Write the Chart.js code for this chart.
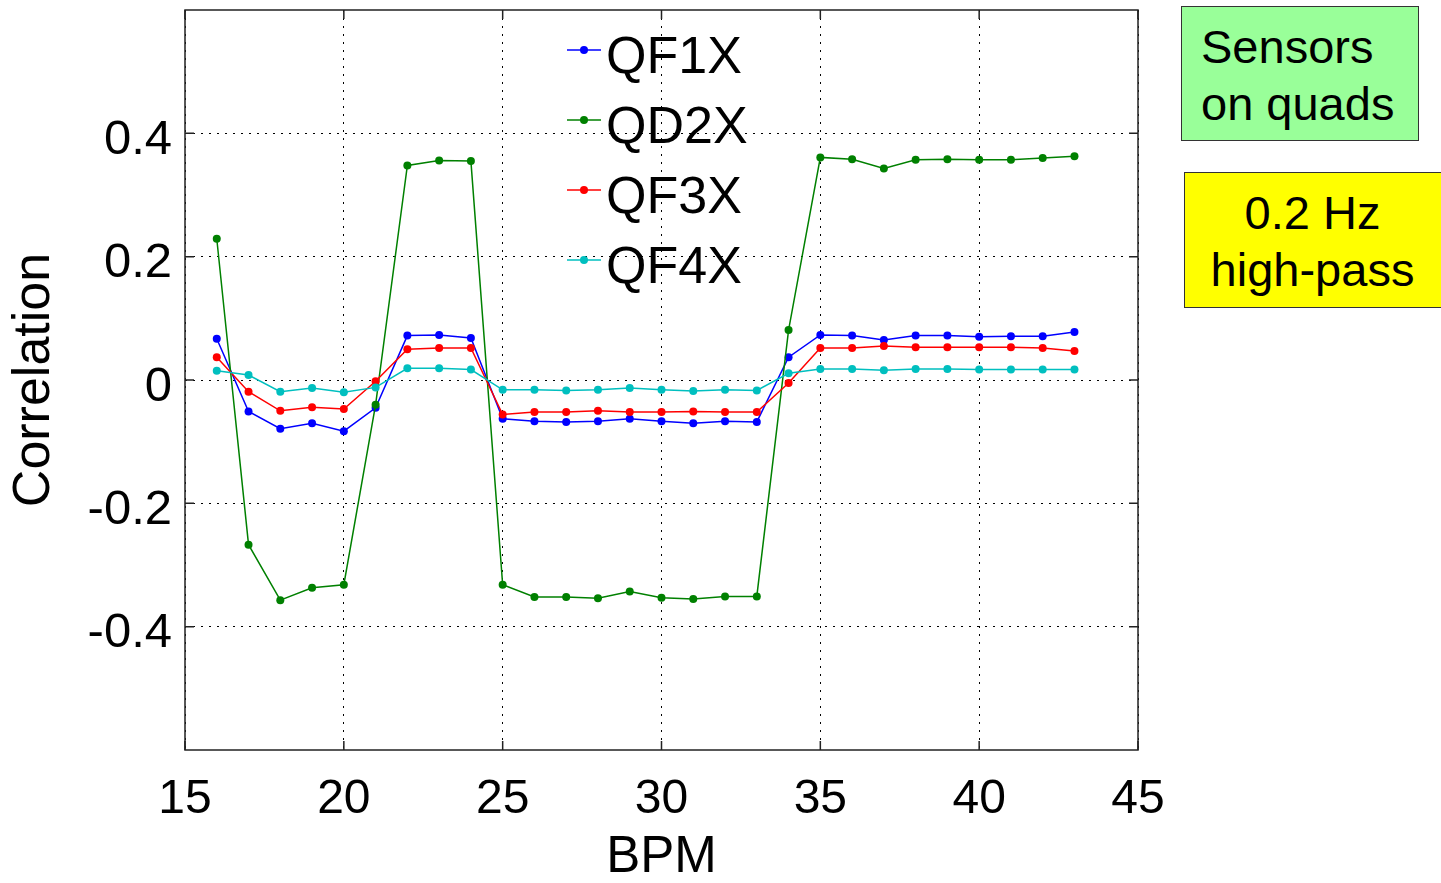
<!DOCTYPE html>
<html>
<head>
<meta charset="utf-8">
<script src="https://cdn.jsdelivr.net/npm/chart.js@4/dist/chart.umd.min.js"></script>
<style>
  body { margin: 0; background: #fff; }
  #wrap { position: relative; width: 1441px; height: 883px; overflow: hidden; }
  .note {
    position: absolute;
    font-family: "Liberation Sans", Arial, sans-serif;
    font-size: 47px;
    line-height: 57px;
    color: #000;
    box-sizing: border-box;
    border: 1.5px solid #333;
  }
  #sensors { left: 1181px; top: 6px; width: 238px; height: 135px; background: #99ff99; padding: 11px 0 0 19px; }
  #highpass { left: 1184px; top: 172px; width: 262px; height: 136px; background: #ffff00; padding-top: 11px; text-align: center; padding-right: 5px; }
</style>
</head>
<body>
<div id="wrap">
  <canvas id="chart" width="1441" height="883"></canvas>
  <div class="note" id="sensors">Sensors<br>on quads</div>
  <div class="note" id="highpass">0.2 Hz<br>high-pass</div>
</div>
<script>
// BPM index on x
const bpm = [16, 17, 18, 19, 20, 21, 22, 23, 24, 25, 26, 27, 28, 29, 30, 31, 32, 33, 34, 35, 36, 37, 38, 39, 40, 41, 42, 43];

// correlation values
const qf1x = [0.067, -0.051, -0.079, -0.070, -0.083, -0.045, 0.072, 0.073, 0.068, -0.063, -0.067, -0.068, -0.067, -0.063,
              -0.067, -0.070, -0.067, -0.068, 0.037, 0.073, 0.072, 0.065, 0.072, 0.072, 0.070, 0.071, 0.071, 0.078];
const qd2x = [0.229, -0.267, -0.357, -0.337, -0.332, -0.040, 0.348, 0.356, 0.355, -0.332, -0.352, -0.352, -0.354, -0.343,
              -0.353, -0.355, -0.351, -0.351, 0.081, 0.361, 0.358, 0.343, 0.357, 0.358, 0.357, 0.357, 0.360, 0.363];
const qf3x = [0.037, -0.019, -0.050, -0.044, -0.047, -0.002, 0.050, 0.052, 0.052, -0.056, -0.052, -0.052, -0.050, -0.052,
              -0.052, -0.051, -0.052, -0.052, -0.005, 0.052, 0.052, 0.055, 0.053, 0.053, 0.053, 0.053, 0.052, 0.047];
const qf4x = [0.015, 0.008, -0.019, -0.013, -0.020, -0.012, 0.019, 0.019, 0.017, -0.016, -0.016, -0.017, -0.016, -0.013,
              -0.016, -0.018, -0.016, -0.017, 0.011, 0.018, 0.018, 0.016, 0.018, 0.018, 0.017, 0.017, 0.017, 0.017];

const seriesNames = ['QF1X', 'QD2X', 'QF3X', 'QF4X'];
const seriesColors = ['#0000ff', '#008000', '#ff0000', '#00bfbf'];
const xTicks = [15, 20, 25, 30, 35, 40, 45];
const yTicks = [-0.4, -0.2, 0, 0.2, 0.4];

const FONT = '"Liberation Sans", Arial, sans-serif';

function points(values) {
    return bpm.map((b, i) => ({ x: b, y: values[i] }));
}

function makeDataset(i, values) {
    return {
        label: seriesNames[i],
        data: points(values),
        borderColor: seriesColors[i],
        backgroundColor: seriesColors[i],
        borderWidth: 1.5,
        pointRadius: 4,
        pointBorderWidth: 0,
        order: 4 - i
    };
}

// box round the axes with short inward ticks, like matlab
const boxPlugin = {
    id: 'box',
    afterDatasetsDraw(chart) {
        const ctx = chart.ctx;
        const a = chart.chartArea;
        const xs = chart.scales.x;
        const ys = chart.scales.y;
        ctx.save();
        ctx.strokeStyle = '#222';
        ctx.lineWidth = 1.5;
        ctx.strokeRect(a.left, a.top, a.right - a.left, a.bottom - a.top);
        ctx.beginPath();
        xTicks.forEach((t) => {
            const px = xs.getPixelForValue(t);
            ctx.moveTo(px, a.bottom); ctx.lineTo(px, a.bottom - 9);
            ctx.moveTo(px, a.top); ctx.lineTo(px, a.top + 9);
        });
        yTicks.forEach((t) => {
            const py = ys.getPixelForValue(t);
            ctx.moveTo(a.left, py); ctx.lineTo(a.left + 9, py);
            ctx.moveTo(a.right, py); ctx.lineTo(a.right - 9, py);
        });
        ctx.stroke();
        ctx.restore();
    }
};

// legend inside the axes, no frame
const legendPlugin = {
    id: 'innerLegend',
    afterDraw(chart) {
        const ctx = chart.ctx;
        ctx.save();
        ctx.font = '52px ' + FONT;
        ctx.textBaseline = 'middle';
        chart.data.datasets.forEach((ds, i) => {
            const y = 50 + i * 70;
            ctx.strokeStyle = ds.borderColor;
            ctx.lineWidth = 1.5;
            ctx.beginPath();
            ctx.moveTo(567, y);
            ctx.lineTo(601, y);
            ctx.stroke();
            ctx.fillStyle = ds.borderColor;
            ctx.beginPath();
            ctx.arc(584, y, 4, 0, Math.PI * 2);
            ctx.fill();
            ctx.fillStyle = '#000';
            ctx.fillText(ds.label, 606, y + 9);
        });
        ctx.restore();
    }
};

const gridStyle = {
    color: '#000',
    lineWidth: 1,
    drawTicks: false
};

const config = {
    type: 'line',
    data: {
        datasets: [
            makeDataset(0, qf1x),
            makeDataset(1, qd2x),
            makeDataset(2, qf3x),
            makeDataset(3, qf4x)
        ]
    },
    options: {
        responsive: false,
        animation: false,
        devicePixelRatio: 1,
        layout: { padding: { left: 0, top: 10, right: 303, bottom: 0 } },
        plugins: { legend: { display: false }, tooltip: { enabled: false } },
        scales: {
            x: {
                type: 'linear',
                min: 15,
                max: 45,
                afterBuildTicks: (s) => { s.ticks = xTicks.map((v) => ({ value: v })); },
                afterFit: (s) => { s.height = 133; s.paddingLeft = 0; s.paddingRight = 0; },
                grid: gridStyle,
                border: { display: false, dash: [2, 6] },
                ticks: { color: '#000', font: { family: FONT, size: 48 }, padding: 21, maxRotation: 0 },
                title: { display: true, text: 'BPM', color: '#000', font: { family: FONT, size: 51, lineHeight: 1 }, padding: 0 }
            },
            y: {
                type: 'linear',
                min: -0.6,
                max: 0.6,
                afterBuildTicks: (s) => { s.ticks = yTicks.map((v) => ({ value: v })); },
                afterFit: (s) => { s.width = 185; s.paddingTop = 0; s.paddingBottom = 0; },
                grid: gridStyle,
                border: { display: false, dash: [2, 6] },
                ticks: { color: '#000', font: { family: FONT, size: 49 }, padding: 13, labelOffset: 7,
                         callback: (v) => String(Math.round(v * 10) / 10) },
                title: { display: true, text: 'Correlation', color: '#000', font: { family: FONT, size: 52, lineHeight: 1 }, padding: { top: 9, bottom: 0 } }
            }
        }
    },
    plugins: [boxPlugin, legendPlugin]
};

var ctx = document.getElementById('chart').getContext('2d');
var myChart = new Chart(ctx, config);
</script>
</body>
</html>
